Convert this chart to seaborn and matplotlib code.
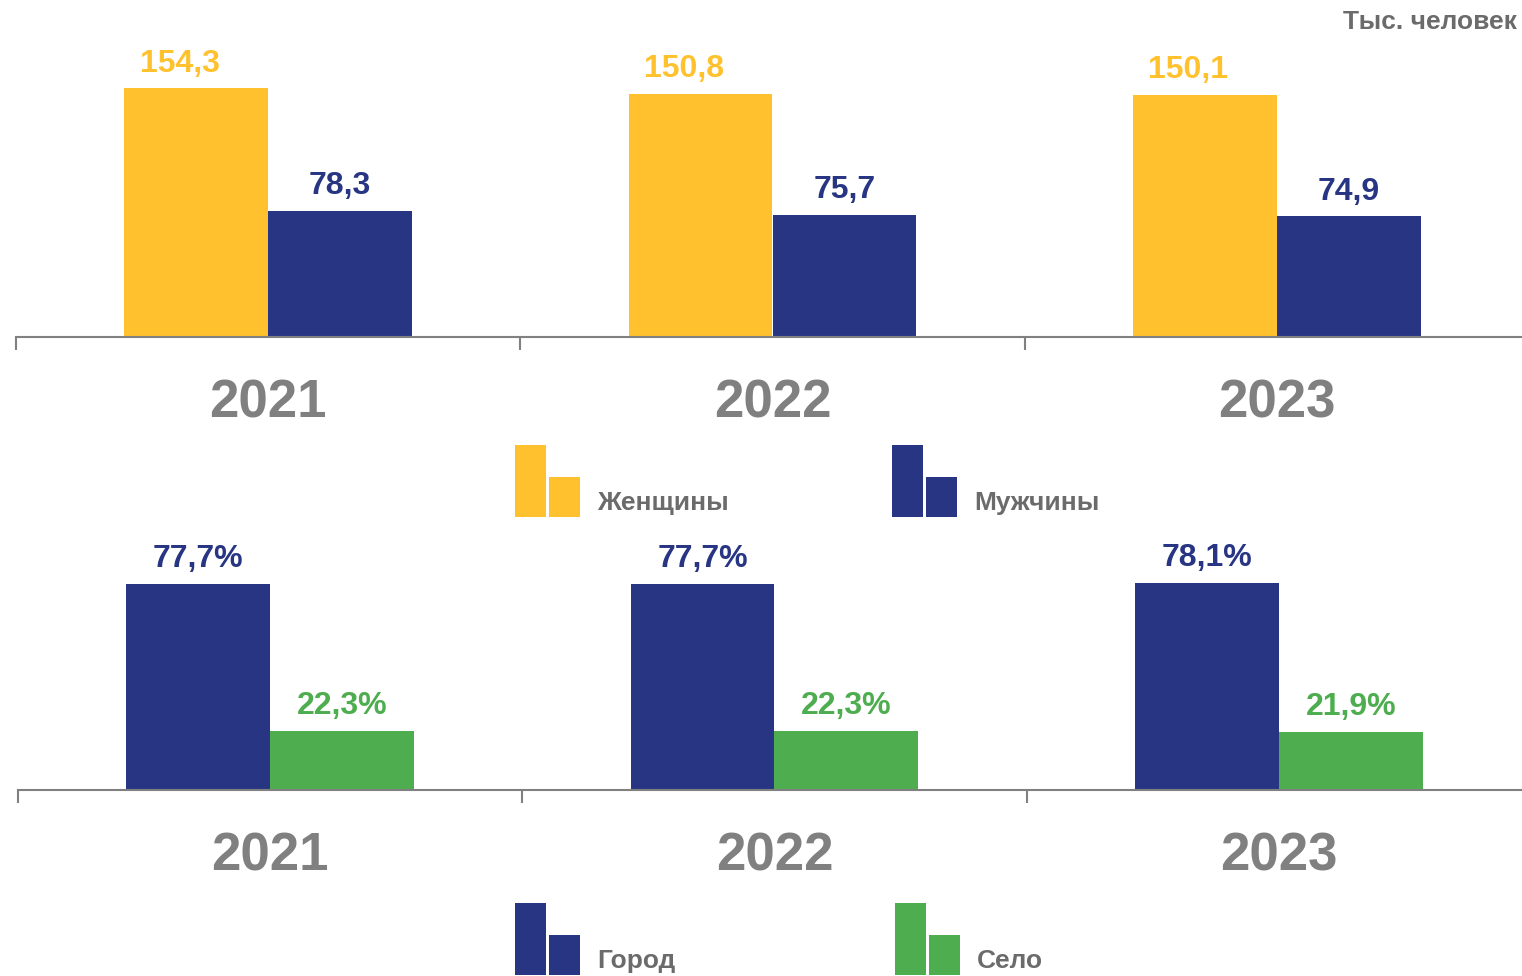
import pandas as pd
import matplotlib
matplotlib.use("Agg")
from matplotlib import pyplot as plt
from matplotlib.legend_handler import HandlerBase
import matplotlib.patches as mpatches
import seaborn as sns

# data
years = ["2021", "2022", "2023"]
women = [154.3, 150.8, 150.1]
men = [78.3, 75.7, 74.9]
urban = [77.7, 77.7, 78.1]
rural = [22.3, 22.3, 21.9]

sex_labels = ["Женщины", "Мужчины"]
area_labels = ["Город", "Село"]
unit_label = "Тыс. человек"

YELLOW = "#FFC22E"
NAVY = "#283583"
GREEN = "#4EAD4F"
GRAY = "#808080"
TEXT_GRAY = "#6b6b6b"

sns.set_theme(style="white")
plt.rcParams["font.family"] = ["Liberation Sans", "DejaVu Sans"]
plt.rcParams["font.weight"] = "bold"


class HandlerTwoBars(HandlerBase):
    """legend icon: a tall and a short bar side by side"""
    def create_artists(self, legend, orig_handle, xdescent, ydescent,
                       width, height, fontsize, trans):
        c = orig_handle.get_facecolor()
        w = 22.3
        tall = mpatches.Rectangle((-xdescent, -5), w, 51.8, facecolor=c,
                                  edgecolor="none", transform=trans)
        short = mpatches.Rectangle((-xdescent + w + 2.2, -5), w, 28.8,
                                   facecolor=c, edgecolor="none", transform=trans)
        return [tall, short]


def make_df(a, b, names):
    df = pd.DataFrame({"year": years * 2,
                       "value": list(a) + list(b),
                       "group": [names[0]] * 3 + [names[1]] * 3})
    return df


def draw(ax, df, names, colors, ymax, fmt, shift_first=0):
    sns.barplot(data=df, x="year", y="value", hue="group", hue_order=names,
                palette=colors, saturation=1, width=0.571, gap=0, linewidth=0,
                legend=False, ax=ax)
    ax.set_xlim(-0.5, 2.5)
    ax.set_ylim(0, ymax)
    ax.set(xlabel="", ylabel="", yticks=[])
    for s in ["top", "right", "left"]:
        ax.spines[s].set_visible(False)
    ax.spines["bottom"].set_color(GRAY)
    ax.spines["bottom"].set_linewidth(1.5)
    ax.set_xticks([-0.5, 0.5, 1.5, 2.5], minor=True)
    ax.tick_params(axis="x", which="minor", bottom=True, length=9.4,
                   width=1.5, color=GRAY, direction="out")
    ax.tick_params(axis="x", which="major", length=0, pad=30,
                   labelsize=38, labelcolor=GRAY)
    for lab in ax.get_xticklabels():
        lab.set_fontweight("bold")
    for i, c in enumerate(ax.containers):
        dx = shift_first if i == 0 else 0
        for bar, v in zip(c, c.datavalues):
            ax.annotate(fmt(v), (bar.get_x() + bar.get_width() / 2, bar.get_height()),
                        xytext=(dx, 12), textcoords="offset points",
                        ha="center", va="baseline", fontsize=23,
                        fontweight="bold", color=colors[i])


W, H = 1522, 976
fig = plt.figure(figsize=(W / 100, H / 100), dpi=100)

ax1 = fig.add_axes([16 / W, 1 - 337 / H, 1513 / W, 337 / H])
draw(ax1, make_df(women, men, sex_labels), sex_labels, [YELLOW, NAVY],
     337 / 1.612, lambda v: f"{v:.1f}".replace(".", ","), shift_first=-12)

ax2 = fig.add_axes([18 / W, 1 - 790 / H, 1513 / W, 260 / H])
draw(ax2, make_df(urban, rural, area_labels), area_labels, [NAVY, GREEN],
     260 / 2.65, lambda v: f"{v:.1f}%".replace(".", ","))

fig.text(1517 / W, 1 - 22 / H, unit_label, ha="right", va="center",
         fontsize=19, fontweight="bold", color=TEXT_GRAY)

legend_kw = dict(loc="lower left", ncol=2, frameon=False, fontsize=19,
                 borderpad=0, borderaxespad=0, handlelength=2.46,
                 handletextpad=0.64, handler_map={mpatches.Patch: HandlerTwoBars()},
                 bbox_transform=fig.transFigure, labelcolor=TEXT_GRAY)

leg1 = fig.legend([mpatches.Patch(color=YELLOW), mpatches.Patch(color=NAVY)],
                  sex_labels, bbox_to_anchor=(515 / W, 1 - 515.4 / H),
                  columnspacing=6.2, **legend_kw)
leg2 = fig.legend([mpatches.Patch(color=NAVY), mpatches.Patch(color=GREEN)],
                  area_labels, bbox_to_anchor=(515 / W, 1 - 973.3 / H),
                  columnspacing=8.33, **legend_kw)

fig.savefig("out.png", dpi=100)
